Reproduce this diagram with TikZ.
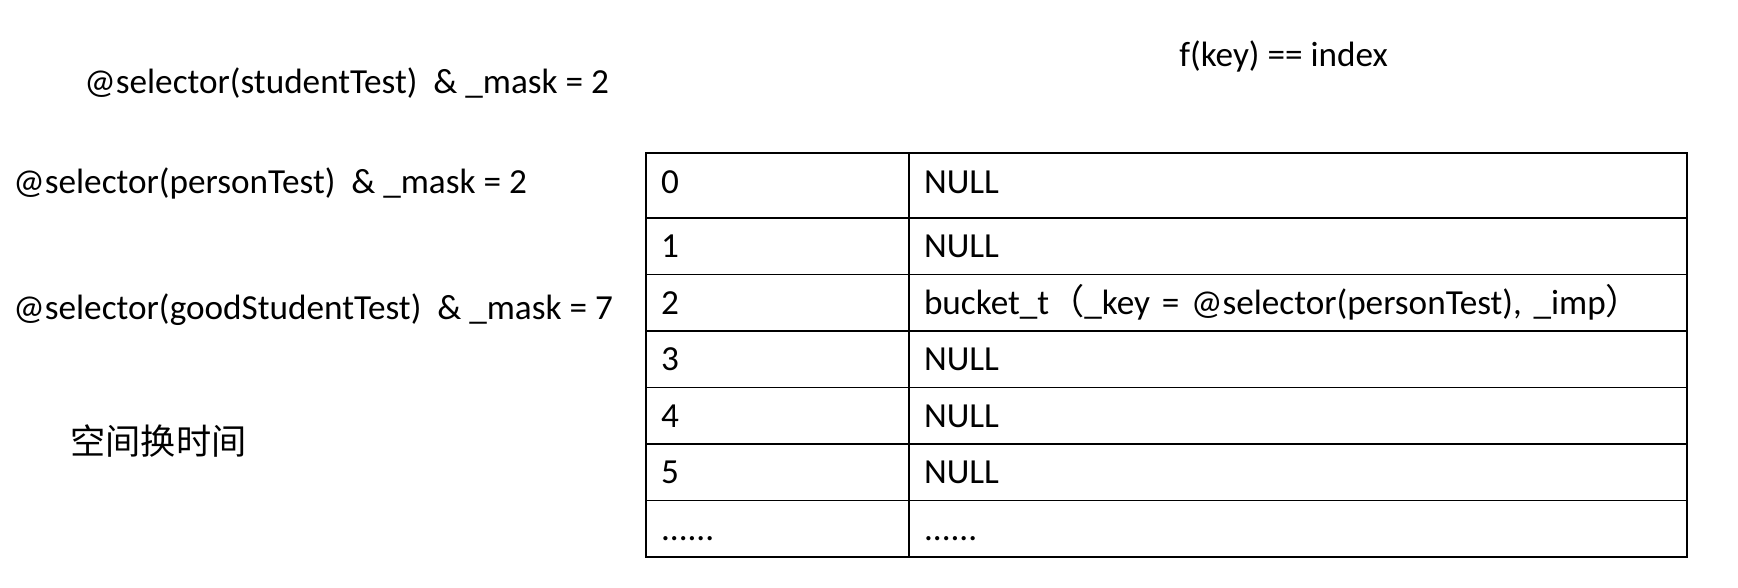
\documentclass[tikz,border=0pt]{standalone}
\usepackage{fontspec}
\setmainfont{Carlito}
\newfontfamily\cjk{Noto Sans CJK SC}
\usetikzlibrary{positioning}

\tikzset{
  txt/.style={anchor=west, inner sep=0pt, font=\fontsize{17.6}{21}\selectfont},
  idxcell/.style={draw, line width=0.9pt, outer sep=0pt, inner xsep=7.5pt, inner ysep=0pt,
    text width=116.5pt, align=left, minimum height=28.25pt,
    text height=15pt, text depth=3.5pt,
    font=\fontsize{17.6}{21}\selectfont},
  valcell/.style={idxcell, text width=374pt},
  toprow/.style={minimum height=32.5pt, text depth=7pt},
}

\begin{document}
\begin{tikzpicture}[x=0.5pt,y=-0.5pt]
  \useasboundingbox (0,0) rectangle (1738,588);
  % labels
  \node[txt] (student) at (84,83)  {@selector(studentTest)~ \& \_mask = 2};
  \node[txt] (person)  at (13,183) {@selector(personTest)~ \& \_mask = 2};
  \node[txt] (good)    at (13,310) {@selector(goodStudentTest)~ \& \_mask = 7};
  \node[txt] (space)   at (70,441) {\cjk 空间换时间};
  \node[txt] (hash)    at (1179,56) {f(key) == index};
  % hash table
  \node[idxcell, toprow, anchor=north west] (i0) at (646,153) {0};
  \node[valcell, toprow] (v0) [right=0pt of i0] {NULL};
  \node[idxcell] (i1) [below=0pt of i0] {1};
  \node[valcell] (v1) [right=0pt of i1] {NULL};
  \node[idxcell] (i2) [below=0pt of i1] {2};
  \node[valcell] (v2) [right=0pt of i2] {bucket\_t{\cjk （}\_key = @selector(personTest), \_imp{\cjk ）}};
  \node[idxcell] (i3) [below=0pt of i2] {3};
  \node[valcell] (v3) [right=0pt of i3] {NULL};
  \node[idxcell] (i4) [below=0pt of i3] {4};
  \node[valcell] (v4) [right=0pt of i4] {NULL};
  \node[idxcell] (i5) [below=0pt of i4] {5};
  \node[valcell] (v5) [right=0pt of i5] {NULL};
  \node[idxcell] (i6) [below=0pt of i5] {......};
  \node[valcell] (v6) [right=0pt of i6] {......};
\end{tikzpicture}
\end{document}
